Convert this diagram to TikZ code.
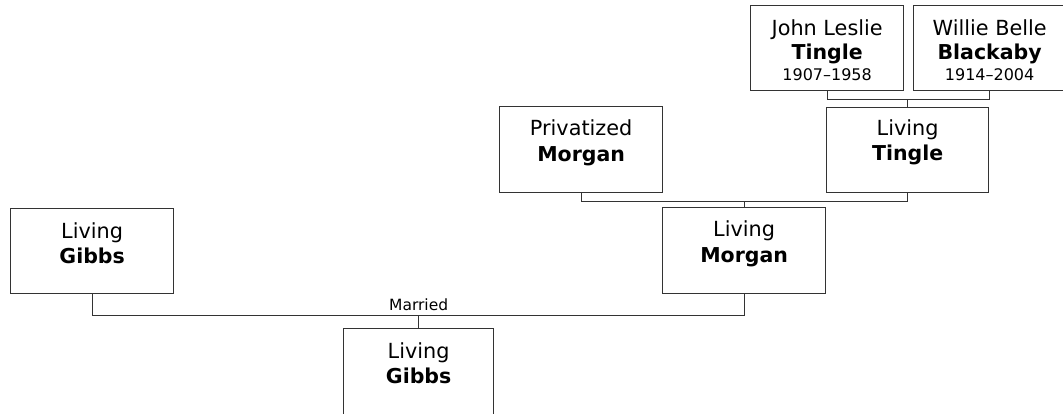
\documentclass[tikz,border=0pt]{standalone}
\usepackage{fontspec}
\setmainfont{DejaVu Sans}
\usetikzlibrary{calc}
\begin{document}
\begin{tikzpicture}[x=1pt,y=-1pt,
  person/.style={draw=black!80,line width=1.3pt,rectangle,inner sep=0pt,anchor=north west},
  big/.style={anchor=base,inner sep=0pt,font=\fontsize{20.8}{24}\selectfont},
  bigb/.style={anchor=base,inner sep=0pt,font=\fontsize{20.5}{24}\selectfont\bfseries},
  small/.style={anchor=base,inner sep=0pt,font=\fontsize{16}{18}\selectfont},
  link/.style={draw=black!80,line width=1.3pt}]
\useasboundingbox (0,0) rectangle (1063,413);
\clip (0,0) rectangle (1063,413);
% boxes
\node[person,minimum width=153pt,minimum height=85pt] (jt) at (750,5) {};
\node[person,minimum width=152pt,minimum height=85pt] (wb) at (913,5) {};
\node[person,minimum width=162pt,minimum height=85pt] (lt) at (826,107) {};
\node[person,minimum width=163pt,minimum height=86pt] (pm) at (499,106) {};
\node[person,minimum width=163pt,minimum height=86pt] (lm) at (662,207) {};
\node[person,minimum width=163pt,minimum height=85pt] (lg) at (10,208) {};
\node[person,minimum width=150pt,minimum height=95pt] (cg) at (343,328) {};
% texts
\node[big]  (jt1) at ($(jt.north)+(0,30)$) {John Leslie};
\node[bigb] (jt2) at ($(jt.north)+(0,54)$) {Tingle};
\node[small](jt3) at ($(jt.north)+(0,75)$) {1907–1958};
\node[big]  (wb1) at ($(wb.north)+(0,30)$) {Willie Belle};
\node[bigb] (wb2) at ($(wb.north)+(0,54)$) {Blackaby};
\node[small](wb3) at ($(wb.north)+(0,75)$) {1914–2004};
\node[big]  (lt1) at ($(lt.north)+(0,28)$) {Living};
\node[bigb] (lt2) at ($(lt.north)+(0,53)$) {Tingle};
\node[big]  (pm1) at ($(pm.north)+(0,29)$) {Privatized};
\node[bigb] (pm2) at ($(pm.north)+(0,55)$) {Morgan};
\node[big]  (lm1) at ($(lm.north)+(0,29)$) {Living};
\node[bigb] (lm2) at ($(lm.north)+(0,55)$) {Morgan};
\node[big]  (lg1) at ($(lg.north)+(0,30)$) {Living};
\node[bigb] (lg2) at ($(lg.north)+(0,55)$) {Gibbs};
\node[big]  (cg1) at ($(cg.north)+(0,30)$) {Living};
\node[bigb] (cg2) at ($(cg.north)+(0,55)$) {Gibbs};
% connectors
\coordinate (j1) at ($(jt.south)+(0,8.5)$);
\coordinate (j2) at (wb.south |- j1);
\coordinate (j3) at (lt.north |- j1);
\draw[link] (jt.south) -- (j1) -- (j2) -- (wb.south);
\draw[link] (j3) -- (lt.north);
\coordinate (p1) at ($(pm.south)+(0,8)$);
\coordinate (p2) at (lt.south |- p1);
\coordinate (p3) at (lm.north |- p1);
\draw[link] (pm.south) -- (p1) -- (p2) -- (lt.south);
\draw[link] (p3) -- (lm.north);
\coordinate (g1) at ($(lg.south)+(0,21)$);
\coordinate (g2) at (lm.south |- g1);
\coordinate (g3) at (cg.north |- g1);
\draw[link] (lg.south) -- (g1) -- (g2) -- (lm.south);
\draw[link] (g3) -- (cg.north);
\node[small,font=\fontsize{15.5}{18}\selectfont] (mar) at ($(g3)+(0,-4.7)$) {Married};
\end{tikzpicture}
\end{document}
